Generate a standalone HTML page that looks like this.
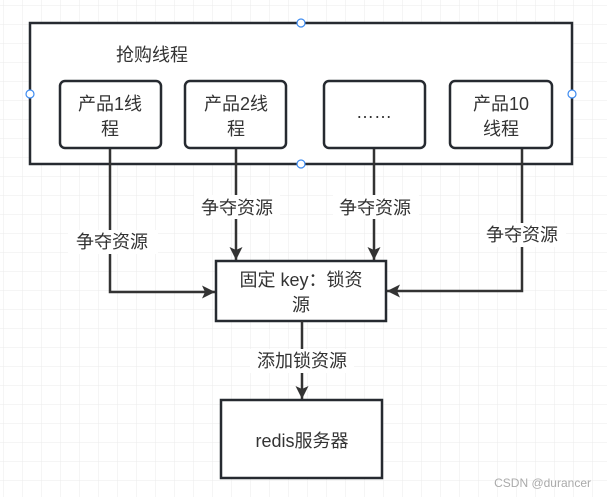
<!DOCTYPE html>
<html><head><meta charset="utf-8"><style>
html,body{margin:0;padding:0;background:#fff;}
svg{display:block;}
text{font-family:"Liberation Sans","Noto Sans CJK SC",sans-serif;fill:#333;}
</style></head><body>
<svg width="607" height="497" viewBox="0 0 607 497" xmlns="http://www.w3.org/2000/svg">
<defs>
<pattern id="g" x="3" y="5" width="19" height="19" patternUnits="userSpaceOnUse">
<path d="M0 0H19M0 0V19" stroke="#ebebeb" stroke-width="1" fill="none"/>
</pattern>
<marker id="a" markerWidth="14" markerHeight="14" refX="13" refY="6.5" orient="auto" markerUnits="userSpaceOnUse">
<path d="M0 0L13 6.5L0 13L3 6.5Z" fill="#333"/>
</marker>
</defs>
<rect width="607" height="497" fill="url(#g)"/>
<g stroke="#262a30" fill="#fff" stroke-width="2.5">
<rect x="30" y="23" width="542" height="141"/>
<rect x="60" y="81" width="101" height="67" rx="5"/>
<rect x="185" y="81" width="101" height="67" rx="5"/>
<rect x="324" y="81" width="101" height="67" rx="5"/>
<rect x="450" y="81" width="102" height="67" rx="5"/>
<rect x="216" y="261" width="170" height="60"/>
<rect x="221" y="400" width="161" height="78"/>
</g>
<g stroke="#333" stroke-width="2.5" fill="none" marker-end="url(#a)">
<path d="M110 149V292H215"/>
<path d="M236 149V260"/>
<path d="M374 149V260"/>
<path d="M522 149V291H387"/>
<path d="M302 321V399"/>
</g>
<g fill="#fff" stroke="#3d8bf0" stroke-width="1.2">
<circle cx="301" cy="23" r="4"/><circle cx="301" cy="164" r="4"/>
<circle cx="30" cy="94" r="4"/><circle cx="572" cy="94" r="4"/>
</g>
<g fill="#fff">
<rect x="68" y="230" width="90" height="24"/>
<rect x="194" y="195" width="86" height="24"/>
<rect x="333" y="195" width="86" height="24"/>
<rect x="480" y="223" width="86" height="24"/>
<rect x="250" y="349" width="104" height="24"/>
</g>
<g font-size="18" text-anchor="middle">
<text x="152" y="61">抢购线程</text>
<text x="110" y="110">产品1线</text><text x="110" y="135">程</text>
<text x="236" y="110">产品2线</text><text x="236" y="135">程</text>
<text x="374" y="118">……</text>
<text x="501" y="110">产品10</text><text x="501" y="135">线程</text>
<text x="112" y="248">争夺资源</text>
<text x="237" y="214">争夺资源</text>
<text x="375" y="214">争夺资源</text>
<text x="522" y="241">争夺资源</text>
<text x="301" y="286">固定 key：锁资</text>
<text x="301" y="311">源</text>
<text x="302" y="367">添加锁资源</text>
<text x="302" y="447">redis服务器</text>
</g>
<text x="591" y="487" font-size="12" text-anchor="end" style="fill:#aaa">CSDN @durancer</text>
</svg>
</body></html>
